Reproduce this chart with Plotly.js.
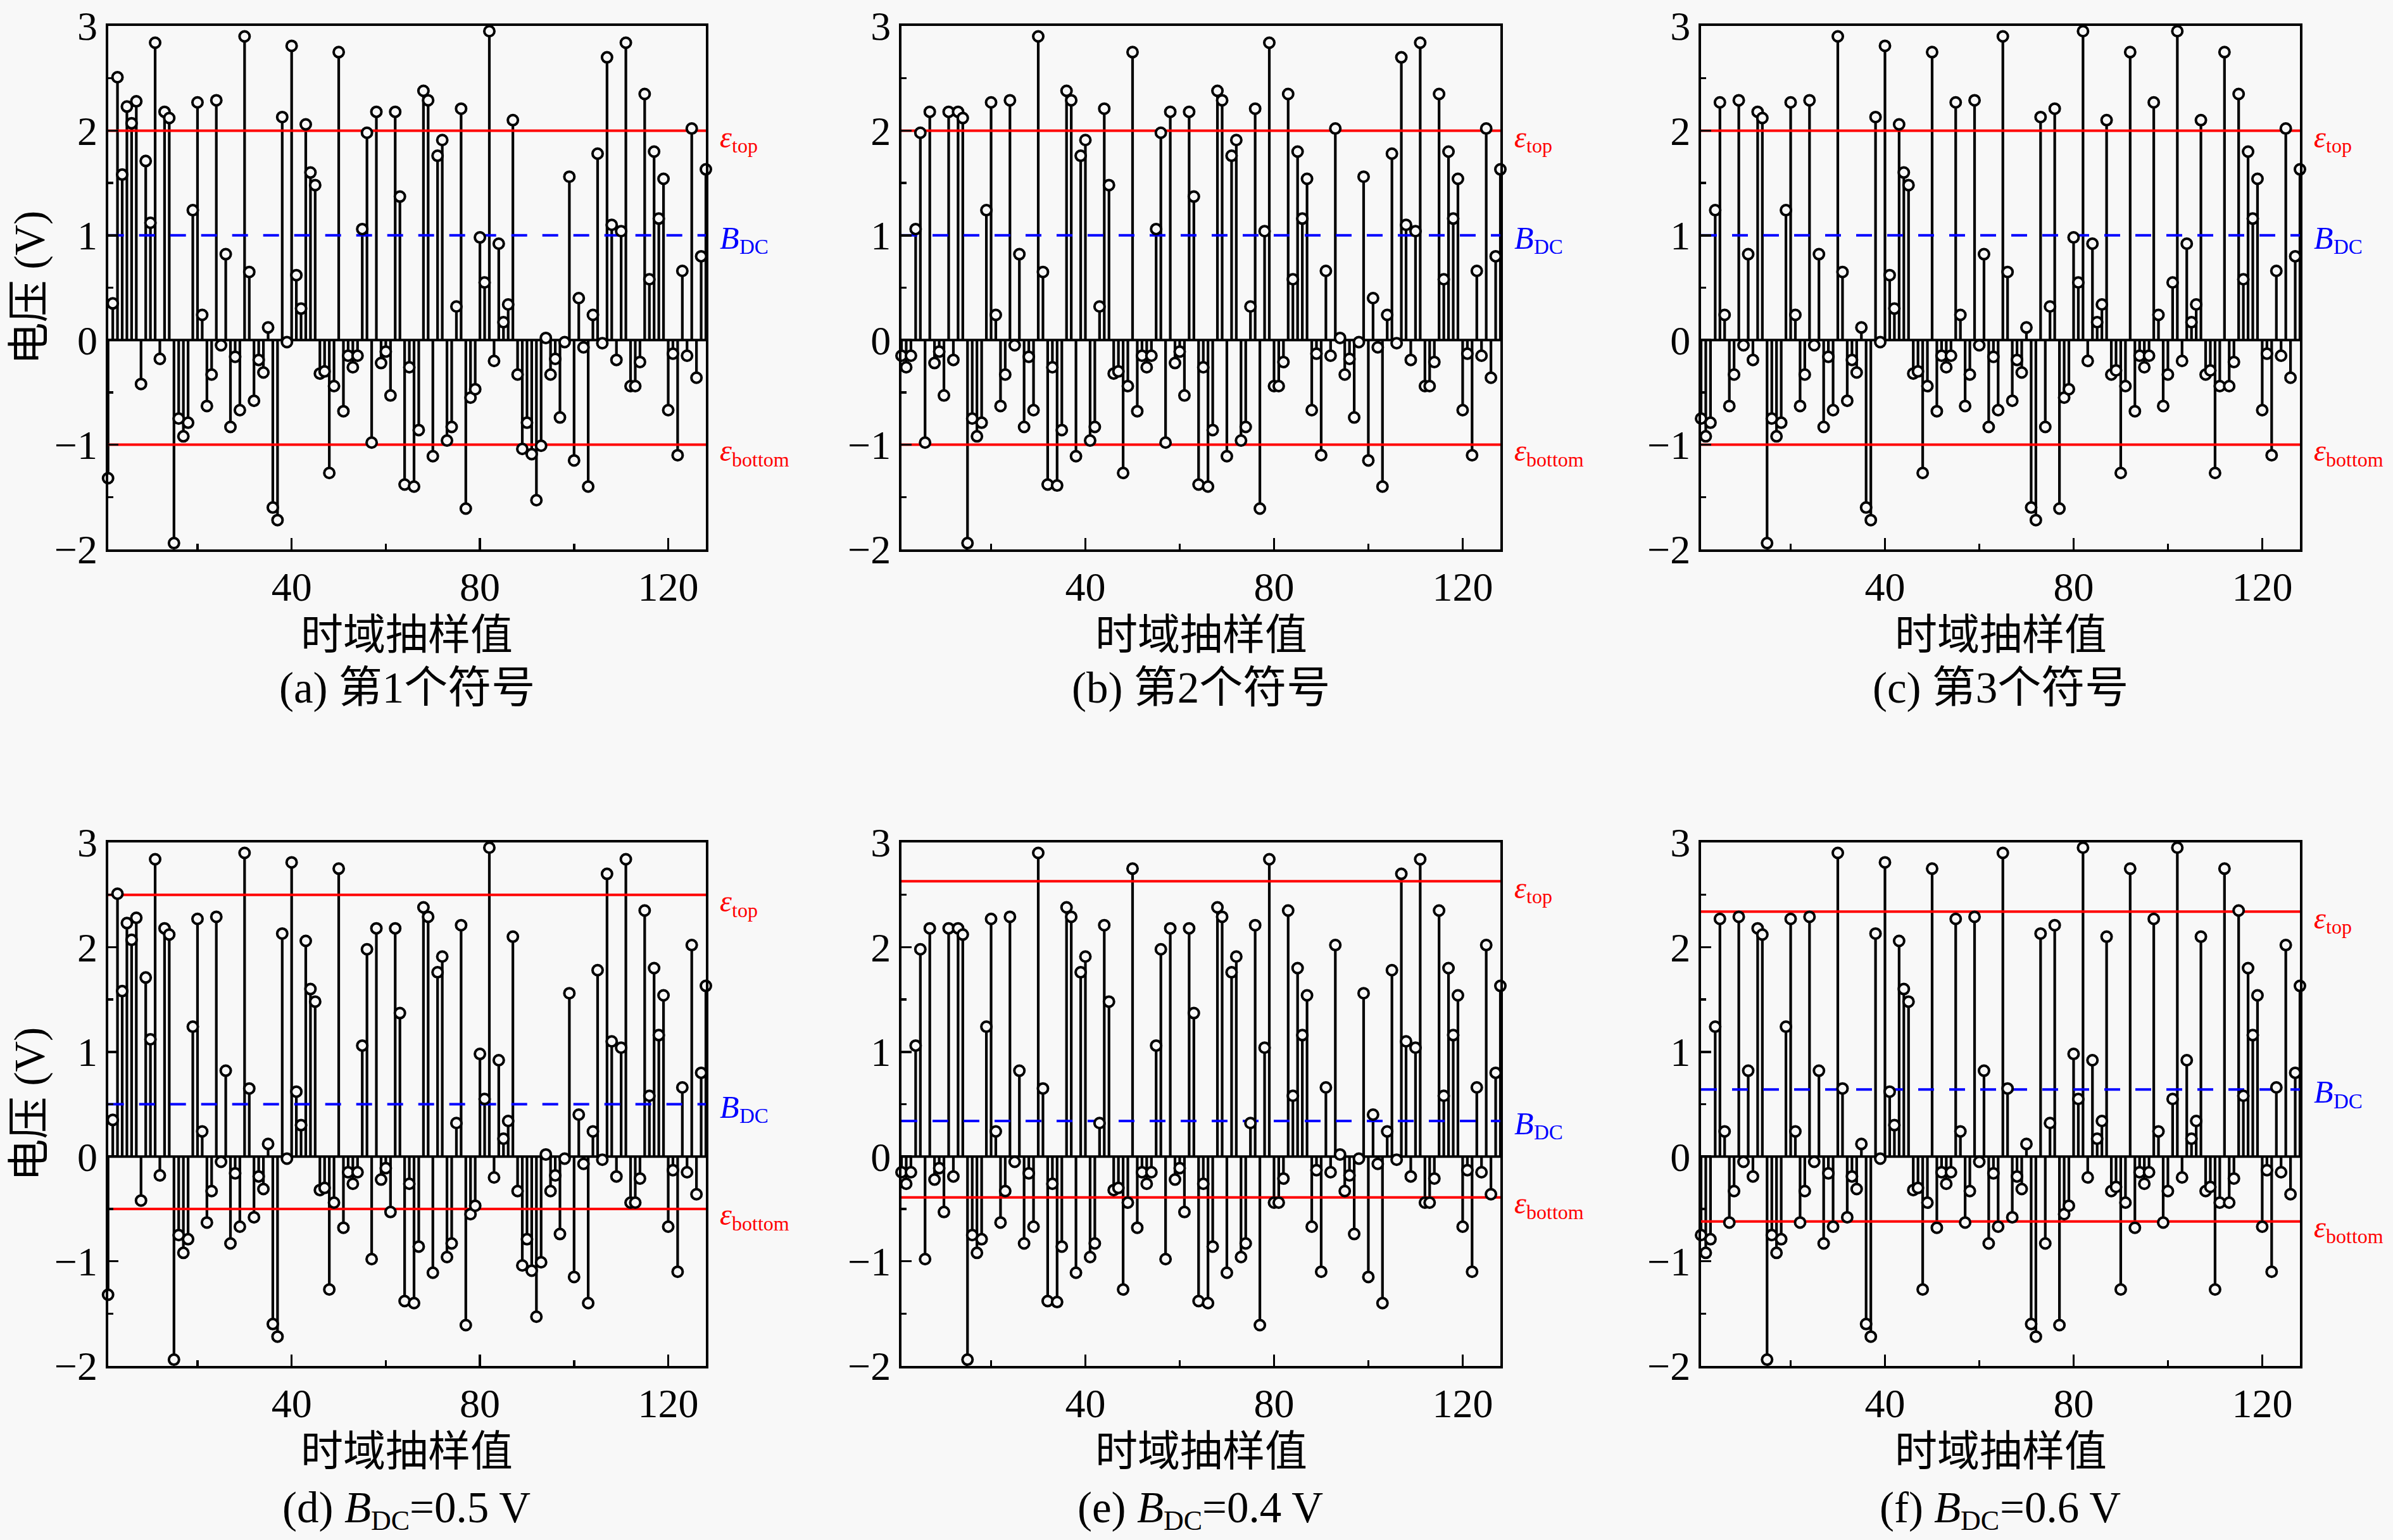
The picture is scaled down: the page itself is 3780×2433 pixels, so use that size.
<!DOCTYPE html>
<html>
<head>
<meta charset="utf-8">
<script src="https://cdn.plot.ly/plotly-3.0.1.min.js"></script>
<style>
html,body{margin:0;padding:0;background:#f8f8f8;}
#chart{width:3780px;height:2433px;}
</style>
</head>
<body>
<div id="chart"></div>
<script>
// ---------- data ----------
const sampleIndex = Array.from({length: 128}, (_, i) => i + 1);

const symbol1 = [-1.32,0.35,2.51,1.58,2.23,2.07,2.28,-0.42,1.71,1.12,2.84,-0.18,2.18,2.12,-1.94,-0.75,
 -0.92,-0.79,1.24,2.27,0.24,-0.63,-0.33,2.29,-0.05,0.82,-0.83,-0.16,-0.67,2.90,0.65,-0.58,
 -0.19,-0.31,0.12,-1.60,-1.72,2.13,-0.02,2.81,0.62,0.30,2.06,1.60,1.48,-0.32,-0.30,-1.27,
 -0.44,2.75,-0.68,-0.15,-0.26,-0.15,1.06,1.98,-0.98,2.18,-0.22,-0.11,-0.53,2.18,1.37,-1.38,
 -0.26,-1.40,-0.86,2.38,2.29,-1.11,1.76,1.91,-0.96,-0.83,0.32,2.21,-1.61,-0.55,-0.47,0.98,
 0.55,2.95,-0.20,0.92,0.17,0.34,2.10,-0.33,-1.04,-0.79,-1.09,-1.53,-1.01,0.02,-0.33,-0.18,
 -0.74,-0.02,1.56,-1.15,0.40,-0.07,-1.40,0.24,1.78,-0.03,2.70,1.10,-0.19,1.04,2.84,-0.44,
 -0.44,-0.21,2.35,0.58,1.80,1.16,1.54,-0.67,-0.13,-1.10,0.66,-0.15,2.02,-0.36,0.80,1.63];

const symbol2 = [-0.15,-0.26,-0.15,1.06,1.98,-0.98,2.18,-0.22,-0.11,-0.53,2.18,-0.19,2.18,2.12,-1.94,-0.75,
 -0.92,-0.79,1.24,2.27,0.24,-0.63,-0.33,2.29,-0.05,0.82,-0.83,-0.16,-0.67,2.90,0.65,-1.38,
 -0.26,-1.39,-0.86,2.38,2.29,-1.11,1.76,1.91,-0.96,-0.83,0.32,2.21,1.48,-0.32,-0.30,-1.27,
 -0.44,2.75,-0.68,-0.15,-0.26,-0.15,1.06,1.98,-0.98,2.18,-0.22,-0.11,-0.53,2.18,1.37,-1.38,
 -0.26,-1.40,-0.86,2.38,2.29,-1.11,1.76,1.91,-0.96,-0.83,0.32,2.21,-1.61,1.04,2.84,-0.44,
 -0.44,-0.21,2.35,0.58,1.80,1.16,1.54,-0.67,-0.13,-1.10,0.66,-0.15,2.02,0.02,-0.33,-0.18,
 -0.74,-0.02,1.56,-1.15,0.40,-0.07,-1.40,0.24,1.78,-0.03,2.70,1.10,-0.19,1.04,2.84,-0.44,
 -0.44,-0.21,2.35,0.58,1.80,1.16,1.54,-0.67,-0.13,-1.10,0.66,-0.15,2.02,-0.36,0.80,1.63];

const symbol3 = [-0.75,-0.92,-0.79,1.24,2.27,0.24,-0.63,-0.33,2.29,-0.05,0.82,-0.19,2.18,2.12,-1.94,-0.75,
 -0.92,-0.79,1.24,2.27,0.24,-0.63,-0.33,2.29,-0.05,0.82,-0.83,-0.16,-0.67,2.90,0.65,-0.58,
 -0.19,-0.31,0.12,-1.60,-1.72,2.13,-0.02,2.81,0.62,0.30,2.06,1.60,1.48,-0.32,-0.30,-1.27,
 -0.44,2.75,-0.68,-0.15,-0.26,-0.15,2.27,0.24,-0.63,-0.33,2.29,-0.05,0.82,-0.83,-0.16,-0.67,
 2.90,0.65,-0.58,-0.19,-0.31,0.12,-1.60,-1.72,2.13,-0.83,0.32,2.21,-1.61,-0.55,-0.47,0.98,
 0.55,2.95,-0.20,0.92,0.17,0.34,2.10,-0.33,-0.29,-1.27,-0.44,2.75,-0.68,-0.15,-0.26,-0.15,
 2.27,0.24,-0.63,-0.33,0.55,2.95,-0.20,0.92,0.17,0.34,2.10,-0.33,-0.29,-1.27,-0.44,2.75,
 -0.44,-0.21,2.35,0.58,1.80,1.16,1.54,-0.67,-0.13,-1.10,0.66,-0.15,2.02,-0.36,0.80,1.63];

// panel order: (a) (b) (c) (d) (e) (f)
const panelSeries = [symbol1, symbol2, symbol3, symbol1, symbol2, symbol3];
const epsTop    = [2, 2, 2, 2.5, 2.63, 2.34];
const bDC       = [1, 1, 1, 0.5, 0.34, 0.64];
const epsBottom = [-1, -1, -1, -0.5, -0.39, -0.62];
const panelLetters = ['(a)', '(b)', '(c)', '(d)', '(e)', '(f)'];
const symbolCaptions = ['第1个符号', '第2个符号', '第3个符号'];
const bdcCaptionValues = ['0.5', '0.4', '0.6'];
const xTitle = '时域抽样值';
const yTitle = '电压 (V)';
const xTickVals = [40, 80, 120];
const yTickVals = [-2, -1, 0, 1, 2, 3];
const yTickText = ['\u22122', '\u22121', '0', '1', '2', '3'];

// ---------- layout geometry (pixels) ----------
const W = 3780, H = 2433;
const colPx = [[170.7, 1115], [1424, 2370], [2687, 3633]];
const rowPx = [[41, 868], [1331, 2158]];
const FONT = 'Liberation Serif, Noto Sans CJK SC, serif';
const BG = '#f8f8f8';
const RED = '#ff0000', BLUE = '#0000ff';
const CAP = 69;

// text measurement for composite (subscripted) labels
const mctx = document.createElement('canvas').getContext('2d');
function measure(t, size, italic) {
  mctx.font = (italic ? 'italic ' : '') + size + 'px "Liberation Serif", "Noto Sans CJK SC", serif';
  return mctx.measureText(t).width;
}
// pieces: {t, size, italic, sub, measureAs}
function addRich(list, pieces, opt) {
  const widths = pieces.map(p => measure(p.measureAs || p.t, p.size, p.italic));
  const total = widths.reduce((a, b) => a + b, 0);
  let off = opt.align === 'center' ? -total / 2 : 0;
  pieces.forEach((p, i) => {
    list.push({
      xref: opt.xref, yref: opt.yref, x: opt.x, y: opt.y,
      xanchor: 'left', yanchor: 'middle',
      xshift: opt.xshift + off,
      yshift: opt.yshift - (p.sub ? 0.29 * opt.mainSize : 0),
      text: p.italic ? '<i>' + p.t + '</i>' : p.t,
      font: {family: FONT, size: p.size, color: opt.color},
      showarrow: false, borderpad: 0, borderwidth: 0
    });
    off += widths[i];
  });
}

const traces = [];
const layout = {
  width: W, height: H,
  margin: {l: 0, r: 0, t: 0, b: 0},
  paper_bgcolor: BG, plot_bgcolor: BG,
  showlegend: false,
  font: {family: FONT, color: '#000'},
  annotations: []
};

for (let k = 0; k < 6; k++) {
  const row = Math.floor(k / 3), col = k % 3;
  const sfx = k === 0 ? '' : String(k + 1);
  const xa = 'x' + sfx, ya = 'y' + sfx;
  const vals = panelSeries[k];
  const xr = [sampleIndex[0], sampleIndex[sampleIndex.length - 1]];

  // baseline
  traces.push({type: 'scatter', mode: 'lines', x: xr, y: [0, 0], xaxis: xa, yaxis: ya,
    line: {color: '#000', width: 4}, hoverinfo: 'skip'});

  // stems
  const sx = [], sy = [];
  sampleIndex.forEach((n, i) => { sx.push(n, n, null); sy.push(0, vals[i], null); });
  traces.push({type: 'scatter', mode: 'lines', x: sx, y: sy, xaxis: xa, yaxis: ya,
    line: {color: '#000', width: 4.2}, hoverinfo: 'skip'});

  // threshold lines
  traces.push({type: 'scatter', mode: 'lines', x: xr, y: [epsTop[k], epsTop[k]], xaxis: xa, yaxis: ya,
    line: {color: RED, width: 4}, hoverinfo: 'skip'});
  traces.push({type: 'scatter', mode: 'lines', x: xr, y: [epsBottom[k], epsBottom[k]], xaxis: xa, yaxis: ya,
    line: {color: RED, width: 4}, hoverinfo: 'skip'});
  traces.push({type: 'scatter', mode: 'lines', x: xr, y: [bDC[k], bDC[k]], xaxis: xa, yaxis: ya,
    line: {color: BLUE, width: 4, dash: '25px,24px'}, hoverinfo: 'skip'});

  // markers
  traces.push({type: 'scatter', mode: 'markers', x: sampleIndex, y: vals, xaxis: xa, yaxis: ya,
    cliponaxis: false,
    marker: {symbol: 'circle', size: 16, color: BG, line: {color: '#000', width: 4}}});

  const xd = [colPx[col][0] / W, colPx[col][1] / W];
  const yd = [1 - rowPx[row][1] / H, 1 - rowPx[row][0] / H];

  layout['xaxis' + sfx] = {
    domain: xd, anchor: ya, range: [1, 128],
    tickmode: 'array', tickvals: xTickVals, ticks: 'inside', ticklen: 18, tickwidth: 3.5, tickcolor: '#000',
    minor: {tickmode: 'array', tickvals: [20, 60, 100], ticks: 'inside', ticklen: 9, tickwidth: 3.5, tickcolor: '#000'},
    showline: true, mirror: true, linecolor: '#000', linewidth: 4,
    showgrid: false, zeroline: false,
    tickfont: {family: FONT, size: 64, color: '#000'}
  };
  layout['yaxis' + sfx] = {
    domain: yd, anchor: xa, range: [-2, 3],
    tickmode: 'array', tickvals: yTickVals, ticktext: yTickText,
    ticks: 'inside', ticklen: 16, tickwidth: 3.5, tickcolor: '#000',
    minor: {tickmode: 'array', tickvals: [-1.5, -0.5, 0.5, 1.5, 2.5], ticks: 'inside', ticklen: 8, tickwidth: 3.5, tickcolor: '#000'},
    showline: true, mirror: true, linecolor: '#000', linewidth: 4,
    showgrid: false, zeroline: false,
    tickfont: {family: FONT, size: 64, color: '#000'}
  };

  // x-axis title
  layout.annotations.push({xref: xa + ' domain', yref: ya + ' domain', x: 0.5, y: 0,
    xanchor: 'center', yanchor: 'middle', yshift: -135, showarrow: false,
    text: xTitle, font: {family: FONT, size: 67, color: '#000'}});

  // caption
  const capOpt = {xref: xa + ' domain', yref: ya + ' domain', x: 0.5, y: 0, xshift: 0,
    yshift: row === 0 ? -219 : -224, align: 'center', mainSize: CAP, color: '#000'};
  if (row === 0) {
    addRich(layout.annotations, [{t: panelLetters[k] + ' ' + symbolCaptions[col], size: CAP}], capOpt);
  } else {
    addRich(layout.annotations, [
      {t: panelLetters[k], measureAs: panelLetters[k] + ' ', size: CAP},
      {t: 'B', size: CAP, italic: true},
      {t: 'DC', size: 44, sub: true},
      {t: '=' + bdcCaptionValues[col] + ' V', size: CAP}
    ], capOpt);
  }

  // y-axis title
  if (col === 0) {
    layout.annotations.push({xref: 'paper', yref: ya + ' domain', x: 46 / W, y: 0.5,
      xanchor: 'center', yanchor: 'middle', textangle: -90, showarrow: false,
      text: yTitle, font: {family: FONT, size: 67, color: '#000'}});
  }

  // threshold labels
  addRich(layout.annotations, [{t: 'ε', size: 48, italic: true}, {t: 'top', size: 32, sub: true}],
    {xref: xa + ' domain', yref: ya, x: 1, y: epsTop[k], xshift: 22, yshift: -10, align: 'left', mainSize: 48, color: RED});
  addRich(layout.annotations, [{t: 'B', size: 50, italic: true}, {t: 'DC', size: 33, sub: true}],
    {xref: xa + ' domain', yref: ya, x: 1, y: bDC[k], xshift: 22, yshift: -4, align: 'left', mainSize: 50, color: BLUE});
  addRich(layout.annotations, [{t: 'ε', size: 48, italic: true}, {t: 'bottom', size: 32, sub: true}],
    {xref: xa + ' domain', yref: ya, x: 1, y: epsBottom[k], xshift: 22, yshift: -9, align: 'left', mainSize: 48, color: RED});
}

Plotly.newPlot('chart', traces, layout, {staticPlot: true, displayModeBar: false});
</script>
</body>
</html>
